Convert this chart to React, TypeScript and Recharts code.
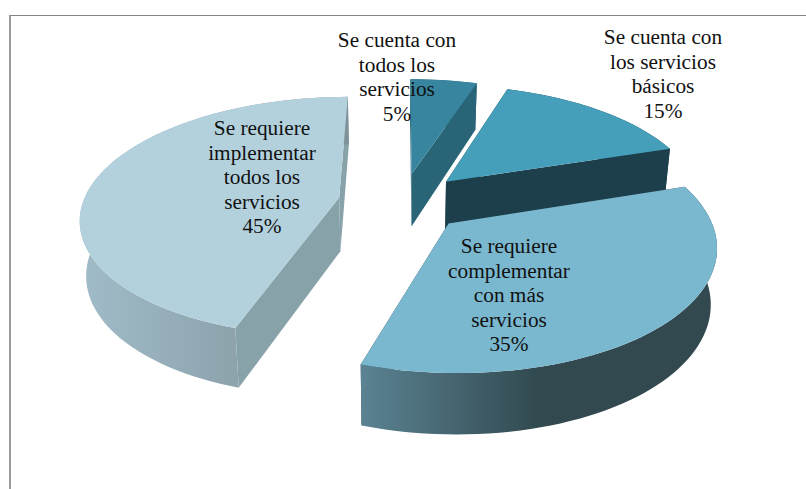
import React from 'react';
import { PieChart, Pie } from 'recharts';

const categories = [
  'Se cuenta con todos los servicios',
  'Se cuenta con los servicios básicos',
  'Se requiere complementar con más servicios',
  'Se requiere implementar todos los servicios',
];
const shares = [5, 15, 35, 45];
const labelLines = [
  ['Se cuenta con', 'todos los', 'servicios'],
  ['Se cuenta con', 'los servicios', 'básicos'],
  ['Se requiere', 'complementar', 'con más', 'servicios'],
  ['Se requiere', 'implementar', 'todos los', 'servicios'],
];

// first line centre of each label, measured on the picture
const labelAnchors = [
  [397, 42.5],
  [663, 39.5],
  [509, 248.5],
  [262, 130.5],
];
const topColors = ['#37859f', '#459fba', '#7ab8cf', '#b3d1dd'];
const cutColors = ['#2a6577', '#1c3f4b', '#31494f', '#88a2aa'];
const wallStops = [
  ['#2a6577', '#2a6577'],
  ['#1c3f4b', '#1c3f4b'],
  ['#5b8393', '#31494f'],
  ['#a0bcc8', '#7f9199'],
];

const chartData = categories.map((name, i) => ({ name, value: shares[i] }));

// fake 3D: the circle is laid on a tilted plane and seen in perspective
const TILT = 0.461;
const PERSPECTIVE = 0.16;
const EXPLODE = 0.25;

const Slice3D = (props: any) => {
  const { cx, cy, outerRadius, startAngle, endAngle, midAngle, index } = props;
  const rad = Math.PI / 180;
  const offU = EXPLODE * Math.cos(midAngle * rad);
  const offV = EXPLODE * Math.sin(midAngle * rad);

  const project = (u: number, v: number) => {
    const w = 1 + PERSPECTIVE * (v + offV);
    return {
      x: cx + (outerRadius * (u + offU)) / w,
      y: cy - (outerRadius * TILT * (v + offV)) / w,
      w,
    };
  };
  const onRim = (a: number) => project(Math.cos(a * rad), Math.sin(a * rad));
  const below = (p: { x: number; y: number; w: number }) => ({
    x: p.x - (p.x - cx) * 0.02,
    y: p.y + 93 - 39 * p.w,
    w: p.w,
  });
  const toPath = (pts: { x: number; y: number }[]) =>
    'M' + pts.map((p) => `${p.x.toFixed(2)},${p.y.toFixed(2)}`).join('L') + 'Z';

  const rim: { x: number; y: number; w: number }[] = [];
  const steps = Math.ceil(Math.abs(startAngle - endAngle) / 2);
  for (let s = 0; s <= steps; s++) {
    rim.push(onRim(startAngle + ((endAngle - startAngle) * s) / steps));
  }
  const apex = project(0, 0);
  const first = rim[0];
  const last = rim[rim.length - 1];
  const gradId = `wall-${index}`;
  const xs = rim.map((p) => p.x);
  const gradFrom = index === 2 ? last.x : Math.min(...xs);
  const gradTo = index === 2 ? 540 : last.x;

  return (
    <g>
      <defs>
        <linearGradient id={gradId} gradientUnits="userSpaceOnUse" x1={gradFrom} x2={gradTo} y1={0} y2={0}>
          <stop offset="0" stopColor={wallStops[index][0]} />
          <stop offset="1" stopColor={wallStops[index][1]} />
        </linearGradient>
      </defs>
      <path d={toPath([apex, first, below(first), below(apex)])} fill={cutColors[index]} />
      <path d={toPath([apex, last, below(last), below(apex)])} fill={cutColors[index]} />
      <path d={toPath([...rim, ...rim.map(below).reverse()])} fill={`url(#${gradId})`} />
      <path d={toPath([apex, ...rim])} fill={topColors[index]} />
    </g>
  );
};

const SliceLabel = (props: any) => {
  const { index, value } = props;
  const [x, y] = labelAnchors[index];
  const lines = [...labelLines[index], `${value}%`];
  return (
    <text x={x} y={y} textAnchor="middle" fontFamily="'Liberation Serif', serif" fontSize={21.3} fill="#111">
      {lines.map((line, i) => (
        <tspan key={i} x={x} y={y + i * 24.4} dominantBaseline="middle">
          {line}
        </tspan>
      ))}
    </text>
  );
};

export default function App() {
  return (
    <div style={{ position: 'absolute', left: 0, top: 0, width: 806, height: 489, background: '#fff', overflow: 'hidden' }}>
      <div
        style={{
          position: 'absolute',
          left: 9,
          top: 15,
          width: 797,
          height: 474,
          borderTop: '1px solid #868686',
          borderLeft: '2px solid #9a9a9a',
        }}
      />
      <div style={{ position: 'absolute', left: 0, top: 0 }}>
        <PieChart width={806} height={489} margin={{ top: 0, right: 0, bottom: 0, left: 0 }}>
          <Pie
            data={chartData}
            dataKey="value"
            nameKey="name"
            cx={402}
            cy={202}
            outerRadius={256}
            startAngle={90}
            endAngle={-270}
            stroke="none"
            shape={Slice3D}
            label={SliceLabel}
            labelLine={false}
            isAnimationActive={false}
          />
        </PieChart>
      </div>
    </div>
  );
}
